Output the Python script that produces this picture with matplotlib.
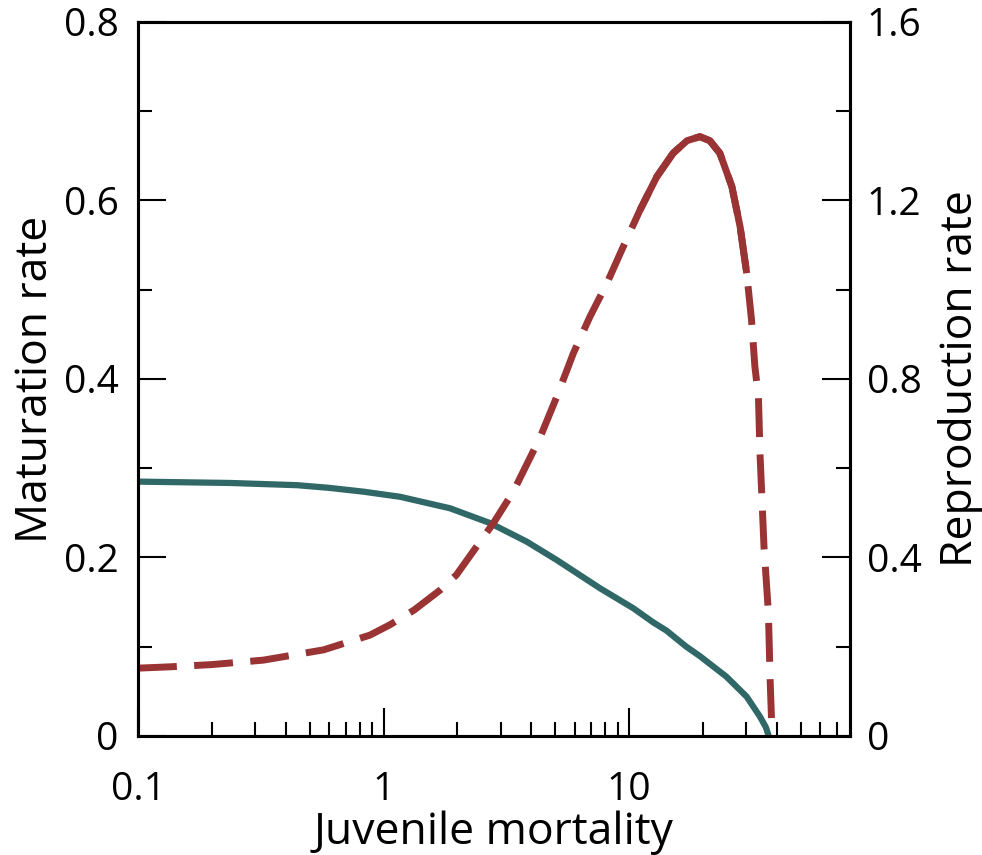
import matplotlib
matplotlib.use("Agg")
import matplotlib.pyplot as plt
from matplotlib.ticker import FixedLocator, FixedFormatter, LogLocator, NullFormatter

plt.rcParams['font.family'] = ['Open Sans', 'DejaVu Sans']

# juvenile mortality vs maturation rate (left axis)
mat_x = [0.1, 0.237, 0.445, 0.6, 0.83, 1.168, 1.866, 2.716, 3.83, 5.07,
         7.61, 10.4, 12.5, 14.2, 17.1, 19.4, 24.9, 30.1, 34.1, 36.0, 37.0]
mat_y = [0.285, 0.2835, 0.281, 0.278, 0.2737, 0.268, 0.2551, 0.2385, 0.2177,
         0.1972, 0.1655, 0.1431, 0.1275, 0.118, 0.1000, 0.0895, 0.0664,
         0.0440, 0.0216, 0.010, 0.0]

# juvenile mortality vs reproduction rate (right axis)
rep_x = [0.1, 0.135, 0.2, 0.324, 0.57, 0.88, 1.06, 1.33, 1.70, 1.98, 2.80,
         3.37, 4.33, 5.07, 5.93, 6.93, 8.11, 9.47, 11.08, 12.95, 15.1, 17.2,
         19.4, 21.3, 23.4, 26.2, 28.3, 30.1, 31.5, 32.5, 33.6, 34.1, 35.4,
         36.9, 37.5, 38.2]
rep_y = [0.152, 0.155, 0.160, 0.170, 0.193, 0.226, 0.249, 0.282, 0.327,
         0.361, 0.477, 0.547, 0.668, 0.760, 0.858, 0.940, 1.014, 1.097,
         1.179, 1.253, 1.306, 1.334, 1.343, 1.334, 1.306, 1.231, 1.141,
         1.037, 0.932, 0.828, 0.760, 0.633, 0.424, 0.276, 0.125, 0.0]

teal = '#306868'
red = '#9a3334'

fig = plt.figure(figsize=(9.82, 8.55), dpi=100)
ax = fig.add_axes([0.1405, 0.1392, 0.8656 - 0.1405, 0.9743 - 0.1392])
ax2 = ax.twinx()

ax.plot(mat_x, mat_y, color=teal, lw=4.5, solid_capstyle='butt',
        solid_joinstyle='round', zorder=3)
ln, = ax2.plot(rep_x, rep_y, color=red, lw=5.0, dash_capstyle='butt')
ln.set_dashes((5.6, 2.5))
# near the peak the original dashes run together into a solid stroke
peak = [(x, y) for x, y in zip(rep_x, rep_y) if 10.0 <= x <= 30.2]
ax2.plot([p[0] for p in peak], [p[1] for p in peak], color=red, lw=5.0,
         solid_capstyle='butt', solid_joinstyle='round')

ax.set_xscale('log')
ax.set_xlim(0.1, 79.3)
ax.set_ylim(0, 0.8)
ax2.set_ylim(0, 1.6)

ax.xaxis.set_major_locator(FixedLocator([0.1, 1, 10]))
ax.xaxis.set_major_formatter(FixedFormatter(['0.1', '1', '10']))
ax.xaxis.set_minor_locator(LogLocator(base=10, subs=range(2, 10)))
ax.xaxis.set_minor_formatter(NullFormatter())

ax.yaxis.set_major_locator(FixedLocator([0, 0.2, 0.4, 0.6, 0.8]))
ax.yaxis.set_major_formatter(FixedFormatter(['0', '0.2', '0.4', '0.6', '0.8']))
ax.yaxis.set_minor_locator(FixedLocator([0.1, 0.3, 0.5, 0.7]))
ax2.yaxis.set_major_locator(FixedLocator([0, 0.4, 0.8, 1.2, 1.6]))
ax2.yaxis.set_major_formatter(FixedFormatter(['0', '0.4', '0.8', '1.2', '1.6']))
ax2.yaxis.set_minor_locator(FixedLocator([0.2, 0.6, 1.0, 1.4]))

for a in (ax, ax2):
    for s in a.spines.values():
        s.set_linewidth(2.2)
ax.tick_params(axis='both', which='major', direction='in', length=20, width=1.5,
               labelsize=28, top=False, right=False)
ax.tick_params(axis='both', which='minor', direction='in', length=10, width=1.5,
               top=False, right=False)
ax.tick_params(axis='x', which='major', pad=25)
ax.tick_params(axis='y', which='major', pad=14)
ax2.tick_params(axis='y', which='major', direction='in', length=20, width=1.5,
                labelsize=28, pad=12)
ax2.tick_params(axis='y', which='minor', direction='in', length=10, width=1.5)

ax.set_xlabel('Juvenile mortality', fontsize=32, labelpad=1)
ax.set_ylabel('Maturation rate', fontsize=32, labelpad=4)
ax2.set_ylabel('Reproduction rate', fontsize=32, rotation=90, labelpad=12)

fig.savefig('out.png', dpi=100)
